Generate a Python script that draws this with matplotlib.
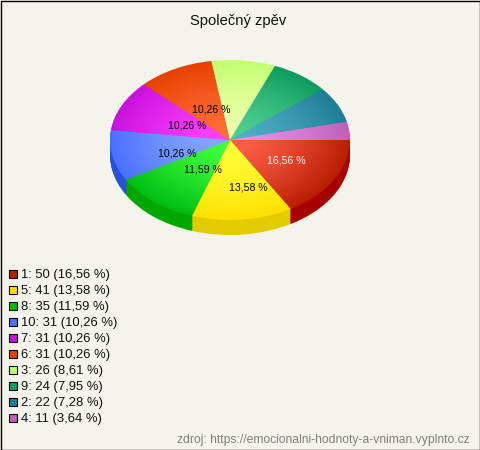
import numpy as np
import matplotlib
matplotlib.use("Agg")
import matplotlib.pyplot as plt
from matplotlib.patches import Rectangle

plt.rcParams['font.family'] = ['Liberation Sans', 'DejaVu Sans']

title = "Společný zpěv"
source = "zdroj: https://emocionalni-hodnoty-a-vniman.vyplnto.cz"
categories = ["1", "5", "8", "10", "7", "6", "3", "9", "2", "4"]
values = [50, 41, 35, 31, 31, 31, 26, 24, 22, 11]
percents = ["16,56", "13,58", "11,59", "10,26", "10,26", "10,26", "8,61", "7,95", "7,28", "3,64"]

edge_colors = ["#B81E00", "#FFE000", "#00BE10", "#4A70FF", "#C812DC", "#E84000",
               "#C4FF70", "#0E9C60", "#1E7E98", "#C060B8"]
center_colors = ["#FF6048", "#FFFF38", "#40FF40", "#88A8FF", "#FF40FF", "#FF7038",
                 "#EEFFB0", "#50D090", "#50B0C8", "#E890E8"]
side_colors = ["#A80000", "#E2CC00", "#00A800", "#2A50D8", "#A800B8", "#C03000",
               "#A0E050", "#008048", "#106078", "#A04090"]
label_colors = ["white", "black", "black", "black", "black", "black"]
# layout of the value labels: radius factor and angle shift per labelled slice
label_radius = [0.53, 0.60, 0.42, 0.465, 0.405, 0.418]
label_shift = [-2, -9, -7, -8, 2, 6]

BG = "#F5F4EC"
CX, CY, RX, RY, DEPTH = 230, 140, 120, 80, 15
W, H = 480, 450

fig = plt.figure(figsize=(W / 100, H / 100), dpi=100, facecolor=BG)
ax = fig.add_axes([0, 0, 1, 1])


def mix(c1, c2, t):
    a = np.array(matplotlib.colors.to_rgb(c1))
    b = np.array(matplotlib.colors.to_rgb(c2))
    return tuple(a + (b - a) * t)


wp = dict(linewidth=0)
for px in range(DEPTH, 0, -1):
    ax.pie(values, colors=side_colors, radius=1, center=(0, -px / RY),
           startangle=0, counterclock=False, wedgeprops=wp)
for r in np.linspace(1, 0.02, 50):
    t = r ** 1.5
    cols = [mix(c, e, t) for c, e in zip(center_colors, edge_colors)]
    ax.pie(values, colors=cols, radius=r, center=(0, 0),
           startangle=0, counterclock=False, wedgeprops=wp)

ax.set_aspect('auto')
ax.set_xlim(-CX / RX, (W - CX) / RX)
ax.set_ylim((CY - H) / RY, CY / RY)
ax.axis('off')

cum = np.cumsum(values)
total = cum[-1]
mids = (cum - np.array(values) / 2) / total * 360
for i in range(len(label_radius)):
    a = np.deg2rad(mids[i] + label_shift[i])
    ax.text(label_radius[i] * np.cos(a), -label_radius[i] * np.sin(a) - 1 / RY, percents[i] + " %",
            color=label_colors[i], fontsize=7.6, ha='center', va='center')

fig.text(238 / W, 1 - 21 / H, title, fontsize=10.6, ha='center', va='center', color='#111111')

for i, (c, v, p) in enumerate(zip(categories, values, percents)):
    y = 274 + 16 * i
    fig.add_artist(Rectangle((9 / W, 1 - (y + 3.5) / H), 8 / W, 8 / H, transform=fig.transFigure,
                             facecolor=edge_colors[i], edgecolor='black', linewidth=0.8))
    fig.text(21 / W, 1 - (y + 1) / H, f"{c}: {v} ({p} %)", fontsize=9.4, ha='left', va='center', color='#111111')

fig.text(470 / W, 1 - 440.5 / H, source, fontsize=8.75, ha='right', va='center', color='#808080')

fig.add_artist(Rectangle((0.5 / W, 0.5 / H), (W - 1) / W, (H - 1) / H, transform=fig.transFigure,
                         facecolor='none', edgecolor='black', linewidth=1))

fig.savefig("out.png", dpi=100, facecolor=BG)
